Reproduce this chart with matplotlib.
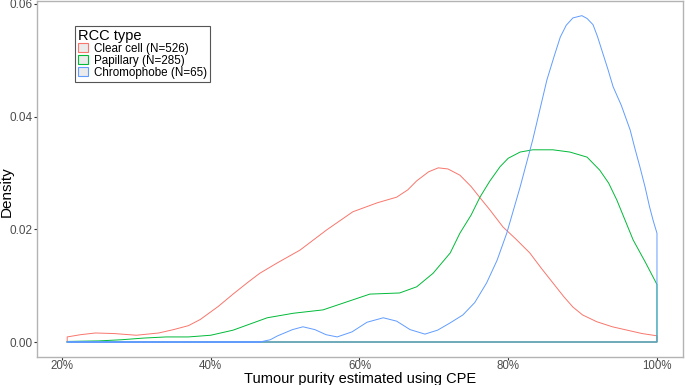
import matplotlib
matplotlib.use("Agg")
import matplotlib.pyplot as plt
from matplotlib.patches import Patch

plt.rcParams['font.family'] = ['Liberation Sans', 'DejaVu Sans']

# --- Data ---
labels = ["Clear cell (N=526)", "Papillary (N=285)", "Chromophobe (N=65)"]
colors = ["#F8766D", "#00BA38", "#619CFF"]

x_clear = [0.207, 0.225, 0.245, 0.27, 0.30, 0.33, 0.35, 0.37, 0.386, 0.41, 0.43, 0.45,
           0.466, 0.489, 0.52, 0.556, 0.591, 0.624, 0.65, 0.665, 0.677, 0.693, 0.706,
           0.719, 0.735, 0.75, 0.762, 0.775, 0.793, 0.81, 0.829, 0.845, 0.86, 0.875,
           0.887, 0.90, 0.919, 0.94, 0.96, 0.98, 1.0]
y_clear = [0.0009, 0.0013, 0.0016, 0.0015, 0.0012, 0.0016, 0.0022, 0.0029, 0.0040, 0.0063,
           0.0085, 0.0106, 0.0122, 0.0140, 0.0163, 0.0199, 0.0231, 0.0247, 0.0257, 0.0270,
           0.0286, 0.0302, 0.0309, 0.0307, 0.0296, 0.0276, 0.0256, 0.0235, 0.0204, 0.0183,
           0.0158, 0.0130, 0.0105, 0.0080, 0.0062, 0.0048, 0.0036, 0.0027, 0.0021, 0.0015,
           0.0011]

x_pap = [0.207, 0.25, 0.28, 0.31, 0.34, 0.37, 0.40, 0.43, 0.476, 0.511, 0.551, 0.578,
         0.614, 0.654, 0.677, 0.699, 0.722, 0.735, 0.75, 0.762, 0.775, 0.789, 0.80,
         0.816, 0.833, 0.86, 0.883, 0.906, 0.923, 0.935, 0.946, 0.968, 0.985, 1.0]
y_pap = [0.0001, 0.0002, 0.0004, 0.0007, 0.0009, 0.0009, 0.0012, 0.0021, 0.0043, 0.0051,
         0.0057, 0.0069, 0.0085, 0.0087, 0.0098, 0.0122, 0.0158, 0.0193, 0.0225, 0.0257,
         0.0285, 0.0311, 0.0326, 0.0337, 0.0341, 0.0341, 0.0337, 0.0328, 0.0305, 0.0282,
         0.0252, 0.0181, 0.0140, 0.0102]

x_chr = [0.207, 0.466, 0.48, 0.49, 0.51, 0.524, 0.54, 0.555, 0.570, 0.59, 0.61, 0.632,
         0.65, 0.668, 0.688, 0.705, 0.722, 0.739, 0.755, 0.771, 0.785, 0.798, 0.816,
         0.833, 0.852, 0.862, 0.870, 0.878, 0.887, 0.899, 0.906, 0.914, 0.92, 0.927,
         0.934, 0.941, 0.952, 0.964, 0.97, 0.977, 0.984, 0.990, 0.995, 1.0]
y_chr = [0.0, 0.0, 0.0004, 0.0011, 0.0022, 0.0027, 0.0022, 0.0013, 0.0009, 0.0018,
         0.0035, 0.0043, 0.0037, 0.0022, 0.0014, 0.0021, 0.0034, 0.0048, 0.0070, 0.0105,
         0.0145, 0.0193, 0.0275, 0.0359, 0.0465, 0.0508, 0.0541, 0.0562, 0.0575, 0.0579,
         0.0574, 0.0563, 0.0542, 0.0513, 0.0484, 0.0453, 0.0420, 0.0376, 0.0345, 0.0311,
         0.0275, 0.0240, 0.0215, 0.0193]

series = [(x_clear, y_clear), (x_pap, y_pap), (x_chr, y_chr)]

# --- Plot ---
fig = plt.figure(figsize=(6.85, 3.85), dpi=100)
ax = fig.add_axes([37 / 685, 28 / 385, 646 / 685, 356 / 385])

for (xs, ys), c in zip(series, colors):
    # closed outline like ggplot's geom_density (baseline + vertical ends)
    px = [xs[0]] + xs + [xs[-1], xs[0]]
    py = [0.0] + ys + [0.0, 0.0]
    ax.plot(px, py, color=c, linewidth=0.7)

ax.set_xlim(0.1664, 1.035)
ax.set_ylim(-0.00266, 0.0605)
ax.set_xticks([0.2, 0.4, 0.6, 0.8, 1.0])
ax.set_xticklabels(["20%", "40%", "60%", "80%", "100%"])
ax.set_yticks([0.0, 0.02, 0.04, 0.06])
ax.set_yticklabels(["0.00", "0.02", "0.04", "0.06"])
ax.tick_params(colors="#333333", labelcolor="#4D4D4D", labelsize=8.5, length=2, width=0.8, pad=1)
ax.tick_params(axis="x", labelsize=8.3, pad=0.5)

for s in ax.spines.values():
    s.set_color("#B3B3B3")
    s.set_linewidth(1.0)

ax.set_xlabel("Tumour purity estimated using CPE", fontsize=10.5)
ax.set_ylabel("Density", fontsize=11)
ax.xaxis.label.set_va("center")
ax.xaxis.set_label_coords((360 - 37) / 646, (357 - 378.5) / 356)
ax.yaxis.label.set_va("center")
ax.yaxis.set_label_coords((7 - 37) / 646, (357 - 192) / 356)

handles = [Patch(facecolor="#EBEBEB", edgecolor=c, linewidth=0.8) for c in colors]
leg = ax.legend(handles, labels, title="RCC type", loc="upper left",
                bbox_to_anchor=(32 / 646, 0.947), fontsize=8.4, title_fontsize=10.5,
                labelspacing=0.0, handlelength=0.9, handleheight=0.9, handletextpad=0.5,
                borderpad=0.25, fancybox=False, framealpha=1, edgecolor="#555555")
leg._legend_box.align = "left"
leg.get_frame().set_linewidth(0.8)

plt.savefig("out.png", dpi=100)
